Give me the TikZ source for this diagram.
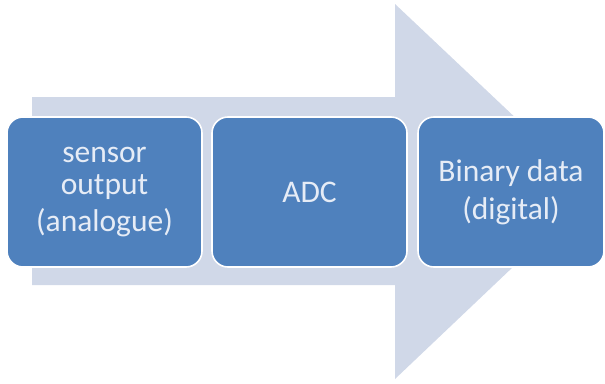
\documentclass[tikz,border=0pt]{standalone}
\usepackage{fontspec}
\setmainfont{Carlito}
\definecolor{stagefill}{HTML}{4F81BD}
\definecolor{flowfill}{HTML}{D0D8E8}
\definecolor{stagetext}{HTML}{E6ECF6}
\begin{document}
\begin{tikzpicture}[x=1pt,y=-1pt,
  stage/.style={rectangle, rounded corners=16pt, fill=stagefill, draw=white,
    line width=1.6pt, minimum width=195pt, minimum height=150pt,
    inner sep=0pt, align=center, text=stagetext,
    font=\fontsize{31.5}{32}\selectfont}]
\useasboundingbox (0,0) rectangle (605,383);
% broad process arrow behind the stages
\fill[flowfill] (32,97) -- (395,97) -- (395,4) -- (593,191) -- (395,379)
  -- (395,285) -- (32,285) -- cycle;
% the three stages
\node[stage] (sensor) at (104.5,192) {sensor\\output\\[5pt](analogue)};
\node[stage] (adc) at (309.5,192) {ADC};
\node[stage, minimum width=186pt] (binary) at (511,192) {Binary data\\[6pt](digital)};
\end{tikzpicture}
\end{document}
